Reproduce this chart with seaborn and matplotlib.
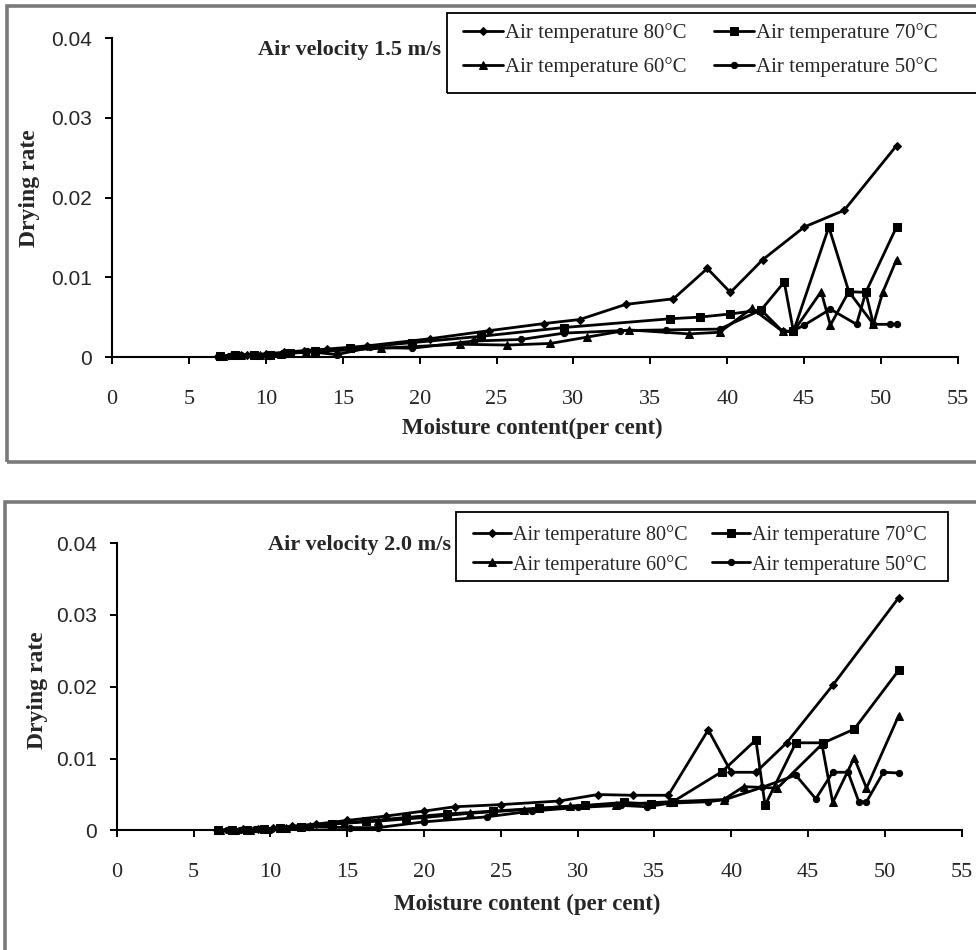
import matplotlib
matplotlib.use("Agg")
import matplotlib.pyplot as plt
from matplotlib.patches import Rectangle
import seaborn as sns
import pandas as pd

# ---- data: drying rate vs moisture content, air velocity 1.5 m/s ----
v15_t80_x = [6.9, 7.8, 8.8, 10.0, 11.2, 12.5, 14.0, 16.6, 20.7, 24.5, 28.1, 30.4, 33.4, 36.5, 38.7, 40.2, 42.3, 45.0, 47.6, 51.0]
v15_t80_y = [0.0001, 0.0002, 0.0003, 0.0004, 0.0006, 0.0008, 0.0010, 0.0014, 0.0023, 0.0033, 0.0042, 0.0047, 0.0066, 0.0073, 0.0111, 0.0081, 0.0122, 0.0163, 0.0184, 0.0265]

v15_t70_x = [7.0, 8.0, 9.2, 10.3, 11.6, 13.2, 15.5, 19.5, 24.0, 29.4, 36.3, 38.2, 40.2, 42.2, 43.7, 44.3, 46.6, 47.9, 49.0, 51.0]
v15_t70_y = [0.0001, 0.0002, 0.0003, 0.0003, 0.0005, 0.0008, 0.0011, 0.0018, 0.0026, 0.0037, 0.0048, 0.0050, 0.0054, 0.0059, 0.0094, 0.0032, 0.0163, 0.0082, 0.0081, 0.0163]

v15_t60_x = [7.2, 8.4, 9.6, 11.0, 12.6, 14.6, 17.5, 22.6, 25.7, 28.5, 30.9, 33.6, 37.5, 39.5, 41.6, 43.6, 44.3, 46.1, 46.7, 47.9, 49.5, 50.1, 51.0]
v15_t60_y = [0.0001, 0.0002, 0.0002, 0.0004, 0.0006, 0.0008, 0.0011, 0.0016, 0.0015, 0.0017, 0.0025, 0.0034, 0.0029, 0.0031, 0.0061, 0.0032, 0.0032, 0.0082, 0.0040, 0.0082, 0.0041, 0.0081, 0.0122]

v15_t50_x = [6.9, 7.6, 8.4, 9.3, 10.2, 11.3, 12.7, 14.6, 16.8, 19.5, 23.5, 26.6, 29.4, 33.0, 36.0, 39.5, 42.2, 43.6, 44.3, 45.0, 46.7, 48.4, 49.0, 49.5, 50.6, 51.0]
v15_t50_y = [0.0000, 0.0001, 0.0002, 0.0003, 0.0001, 0.0004, 0.0007, 0.0003, 0.0012, 0.0011, 0.0020, 0.0022, 0.0030, 0.0033, 0.0034, 0.0035, 0.0059, 0.0032, 0.0033, 0.0040, 0.0060, 0.0041, 0.0081, 0.0041, 0.0041, 0.0041]

# ---- data: drying rate vs moisture content, air velocity 2.0 m/s ----
v20_t80_x = [6.5, 7.3, 8.2, 9.2, 10.2, 11.4, 13.0, 15.0, 17.5, 20.0, 22.0, 25.0, 28.8, 31.3, 33.6, 35.9, 38.5, 40.0, 41.6, 43.6, 46.6, 50.9]
v20_t80_y = [0.0000, 0.0001, 0.0002, 0.0002, 0.0003, 0.0006, 0.0009, 0.0014, 0.0020, 0.0027, 0.0033, 0.0036, 0.0041, 0.0050, 0.0049, 0.0049, 0.0140, 0.0081, 0.0081, 0.0122, 0.0202, 0.0324]

v20_t70_x = [6.6, 7.5, 8.5, 9.6, 10.6, 12.0, 14.0, 16.2, 18.8, 21.5, 24.5, 27.5, 30.5, 33.0, 34.8, 36.2, 39.4, 41.6, 42.2, 44.2, 46.0, 48.0, 50.9]
v20_t70_y = [0.0000, 0.0001, 0.0001, 0.0002, 0.0003, 0.0005, 0.0009, 0.0013, 0.0018, 0.0023, 0.0027, 0.0031, 0.0035, 0.0039, 0.0037, 0.0040, 0.0082, 0.0126, 0.0035, 0.0122, 0.0122, 0.0141, 0.0223]

v20_t60_x = [6.7, 7.7, 8.7, 9.8, 11.0, 12.6, 14.8, 17.0, 20.0, 23.0, 26.5, 29.5, 32.5, 36.0, 39.5, 40.8, 43.0, 45.9, 46.6, 48.0, 48.8, 50.9]
v20_t60_y = [0.0000, 0.0001, 0.0001, 0.0002, 0.0004, 0.0006, 0.0010, 0.0013, 0.0018, 0.0024, 0.0029, 0.0034, 0.0036, 0.0040, 0.0043, 0.0061, 0.0059, 0.0120, 0.0039, 0.0101, 0.0059, 0.0160]

v20_t50_x = [6.5, 7.2, 8.0, 9.0, 10.0, 11.0, 12.5, 15.2, 17.0, 20.0, 24.1, 27.0, 30.0, 32.8, 34.5, 36.0, 38.5, 39.6, 42.0, 44.2, 45.5, 46.6, 47.6, 48.3, 48.8, 49.9, 50.9]
v20_t50_y = [0.0000, 0.0001, 0.0000, 0.0002, 0.0000, 0.0003, 0.0005, 0.0004, 0.0004, 0.0012, 0.0019, 0.0027, 0.0032, 0.0035, 0.0033, 0.0038, 0.0040, 0.0043, 0.0060, 0.0077, 0.0044, 0.0081, 0.0081, 0.0040, 0.0040, 0.0081, 0.0080]

series_names = ["Air temperature 80\u00b0C", "Air temperature 70\u00b0C",
                "Air temperature 60\u00b0C", "Air temperature 50\u00b0C"]
panel_titles = ["Air velocity 1.5 m/s", "Air velocity 2.0 m/s"]
x_labels = ["Moisture content(per cent)", "Moisture content (per cent)"]
y_label = "Drying rate"
x_ticks = [0, 5, 10, 15, 20, 25, 30, 35, 40, 45, 50, 55]
y_ticks = [0, 0.01, 0.02, 0.03, 0.04]
y_tick_labels = ["0", "0.01", "0.02", "0.03", "0.04"]


def long_frame(xs, ys):
    frames = []
    for name, x, y in zip(series_names, xs, ys):
        frames.append(pd.DataFrame({"moisture": x, "rate": y, "series": name}))
    return pd.concat(frames, ignore_index=True)


df15 = long_frame([v15_t80_x, v15_t70_x, v15_t60_x, v15_t50_x],
                  [v15_t80_y, v15_t70_y, v15_t60_y, v15_t50_y])
df20 = long_frame([v20_t80_x, v20_t70_x, v20_t60_x, v20_t50_x],
                  [v20_t80_y, v20_t70_y, v20_t60_y, v20_t50_y])

sns.set_theme(style="white")
plt.rcParams["font.family"] = ["Liberation Serif", "DejaVu Serif"]

W, H = 976, 950
fig = plt.figure(figsize=(W / 100, H / 100), dpi=100)


def px_rect(x0, y0, x1, y1, **kw):
    """Rectangle given in pixel corners (origin top-left)."""
    return Rectangle((x0 / W, 1 - y1 / H), (x1 - x0) / W, (y1 - y0) / H,
                     transform=fig.transFigure, fill=False, **kw)


# outer chart-area frames
fig.patches.append(px_rect(7, 6, 1010, 462, edgecolor="#7a7a7a", linewidth=2.6, zorder=0))
fig.patches.append(px_rect(5, 502, 1010, 990, edgecolor="#7a7a7a", linewidth=2.6, zorder=0))

ax_top = fig.add_axes([0.1148, 0.6242, 0.8668, 0.3358])
ax_bot = fig.add_axes([0.1196, 0.1258, 0.8658, 0.3026])

markers = {series_names[0]: "D", series_names[1]: "s",
           series_names[2]: "^", series_names[3]: "o"}
msizes = {series_names[0]: 4, series_names[1]: 6,
          series_names[2]: 6, series_names[3]: 4.5}
palette = {n: "black" for n in series_names}

panels = [
    dict(ax=ax_top, df=df15, title=panel_titles[0], xlab=x_labels[0],
         tpos=(258, 50), xlpos=(532, 428), ylpos=(30, 188),
         leg_handle=(463, 50.5), leg_space=0.68, leg_font=15, leg_col=1.35,
         leg_box=(447, 13, 1010, 93)),
    dict(ax=ax_bot, df=df20, title=panel_titles[1], xlab=x_labels[1],
         tpos=(268, 545), xlpos=(527, 904), ylpos=(38, 690),
         leg_handle=(473, 550), leg_space=0.46, leg_font=14.5, leg_col=1.2,
         leg_box=(456, 512, 948, 581)),
]

for p in panels:
    ax = p["ax"]
    sns.lineplot(data=p["df"], x="moisture", y="rate", hue="series", style="series",
                 hue_order=series_names, style_order=series_names,
                 markers=markers, dashes=False, palette=palette, sort=False,
                 estimator=None, linewidth=2.0, markeredgecolor="black",
                 markersize=5, legend=False, ax=ax)
    lines = ax.get_lines()
    for ln, name in zip(lines, series_names):
        ln.set_markersize(msizes[name])
        ln.set_clip_on(False)

    ax.set_xlim(0, 55)
    ax.set_ylim(0, 0.04)
    ax.set_xticks(x_ticks)
    ax.set_xticklabels([str(t) for t in x_ticks], fontsize=16)
    ax.set_yticks(y_ticks)
    ax.set_yticklabels(y_tick_labels, fontsize=15, family=["Liberation Sans", "DejaVu Sans"])
    ax.set_xlabel("")
    ax.set_ylabel("")
    ax.tick_params(axis="both", direction="out", length=5, width=1.4, color="black",
                   bottom=True, left=True)
    ax.tick_params(axis="y", pad=9.4)
    ax.tick_params(axis="x", pad=18.5)
    for side in ["top", "right"]:
        ax.spines[side].set_visible(False)
    for side in ["left", "bottom"]:
        ax.spines[side].set_color("black")
        ax.spines[side].set_linewidth(1.5)
    ax.patch.set_alpha(0)

    fig.text(p["tpos"][0] / W, 1 - p["tpos"][1] / H, p["title"], fontsize=16,
             fontweight="bold", ha="left", va="center")
    fig.text(p["xlpos"][0] / W, 1 - p["xlpos"][1] / H, p["xlab"], fontsize=16.5,
             fontweight="bold", ha="center", va="center")
    fig.text(p["ylpos"][0] / W, 1 - p["ylpos"][1] / H, y_label, fontsize=17,
             fontweight="bold", rotation=90, ha="center", va="center")

    handles = [lines[0], lines[2], lines[1], lines[3]]
    labels = [series_names[0], series_names[2], series_names[1], series_names[3]]
    hx, hy = p["leg_handle"]
    fig.legend(handles, labels, loc="center left",
               bbox_to_anchor=(hx / W, 1 - hy / H),
               ncol=2, fontsize=p["leg_font"], frameon=False, handlelength=1.9,
               handletextpad=0.1, columnspacing=p["leg_col"],
               labelspacing=p["leg_space"], borderpad=0, borderaxespad=0)
    bx0, by0, bx1, by1 = p["leg_box"]
    fig.patches.append(px_rect(bx0, by0, bx1, by1, edgecolor="black", linewidth=1.3,
                               zorder=1))

fig.savefig("out.png", dpi=100, facecolor="white")
